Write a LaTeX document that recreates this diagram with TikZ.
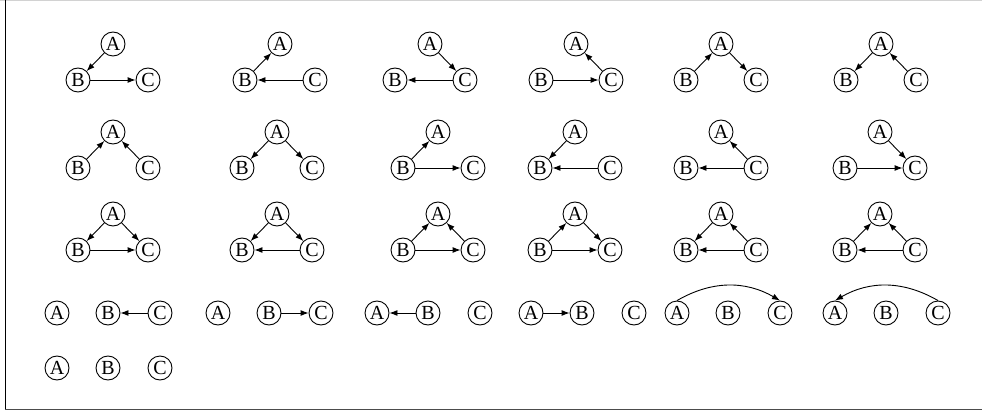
\documentclass[tikz,border=0pt]{standalone}
\usepackage{fontspec}
\setmainfont{Liberation Serif}
\usepackage{tikz}
\usetikzlibrary{arrows.meta}
\tikzset{
  vertex/.style = {shape=circle, draw, inner sep=0pt,
                   minimum size=24pt, line width=0.9pt,
                   font=\fontsize{20}{20}\selectfont},
  arc/.style    = {draw, line width=0.9pt,
                   -{Latex[length=8pt,width=6pt]}},
}
% A on top, B and C below it
\newcommand{\tri}[3]{%
  \node [vertex] (#1A) at (#2,#3) {A};
  \node [vertex] (#1B) at ({#2-35},{#3-36}) {B};
  \node [vertex] (#1C) at ({#2+35},{#3-36}) {C};
}
% A, B and C side by side
\newcommand{\inrow}[3]{%
  \node [vertex] (#1A) at (#2,#3) {A};
  \node [vertex] (#1B) at ({#2+51},#3) {B};
  \node [vertex] (#1C) at ({#2+103},#3) {C};
}

\begin{document}
\begin{tikzpicture}
  [
    x = 1pt,
    y = 1pt
  ]
  \useasboundingbox (0,0) rectangle (982,-414);
  \draw [gray!35] (0,-0.5) -- (982,-0.5);
  \draw (5.5,0) -- (5.5,-410);
  \draw [black!70, line width=1.6pt] (5,-409.5) -- (982,-409.5);

  % first row
  \tri{a1}{113}{-44}
  \tri{a2}{280}{-44}
  \tri{a3}{430}{-44}
  \tri{a4}{576}{-44}
  \tri{a5}{721}{-44}
  \tri{a6}{881}{-44}
  \path [arc] (a1A) -- (a1B);
  \path [arc] (a1B) -- (a1C);
  \path [arc] (a2B) -- (a2A);
  \path [arc] (a2C) -- (a2B);
  \path [arc] (a3A) -- (a3C);
  \path [arc] (a3C) -- (a3B);
  \path [arc] (a4C) -- (a4A);
  \path [arc] (a4B) -- (a4C);
  \path [arc] (a5B) -- (a5A);
  \path [arc] (a5A) -- (a5C);
  \path [arc] (a6A) -- (a6B);
  \path [arc] (a6C) -- (a6A);

  % second row
  \tri{b1}{113}{-132}
  \tri{b2}{277}{-132}
  \tri{b3}{438}{-132}
  \tri{b4}{575}{-132}
  \tri{b5}{721}{-132}
  \tri{b6}{880}{-132}
  \path [arc] (b1B) -- (b1A);
  \path [arc] (b1C) -- (b1A);
  \path [arc] (b2A) -- (b2B);
  \path [arc] (b2A) -- (b2C);
  \path [arc] (b3B) -- (b3A);
  \path [arc] (b3B) -- (b3C);
  \path [arc] (b4A) -- (b4B);
  \path [arc] (b4C) -- (b4B);
  \path [arc] (b5C) -- (b5A);
  \path [arc] (b5C) -- (b5B);
  \path [arc] (b6A) -- (b6C);
  \path [arc] (b6B) -- (b6C);

  % third row
  \tri{c1}{113}{-214}
  \tri{c2}{277}{-214}
  \tri{c3}{438}{-214}
  \tri{c4}{575}{-214}
  \tri{c5}{721}{-214}
  \tri{c6}{880}{-214}
  \path [arc] (c1A) -- (c1B);
  \path [arc] (c1A) -- (c1C);
  \path [arc] (c1B) -- (c1C);
  \path [arc] (c2A) -- (c2B);
  \path [arc] (c2A) -- (c2C);
  \path [arc] (c2C) -- (c2B);
  \path [arc] (c3B) -- (c3A);
  \path [arc] (c3C) -- (c3A);
  \path [arc] (c3B) -- (c3C);
  \path [arc] (c4B) -- (c4A);
  \path [arc] (c4A) -- (c4C);
  \path [arc] (c4B) -- (c4C);
  \path [arc] (c5A) -- (c5B);
  \path [arc] (c5C) -- (c5A);
  \path [arc] (c5C) -- (c5B);
  \path [arc] (c6B) -- (c6A);
  \path [arc] (c6C) -- (c6A);
  \path [arc] (c6C) -- (c6B);

  % fourth row
  \inrow{d1}{57}{-313}
  \inrow{d2}{218}{-313}
  \inrow{d3}{377}{-313}
  \inrow{d4}{531}{-313}
  \inrow{d5}{677}{-313}
  \inrow{d6}{835}{-313}
  \path [arc] (d1C) -- (d1B);
  \path [arc] (d2B) -- (d2C);
  \path [arc] (d3B) -- (d3A);
  \path [arc] (d4A) -- (d4B);
  \path [arc] (d5A.north) to [bend left=30] (d5C.north);
  \path [arc] (d6C.north) to [bend right=30] (d6A.north);

  % last row
  \inrow{e1}{57}{-368}
\end{tikzpicture}
\end{document}
